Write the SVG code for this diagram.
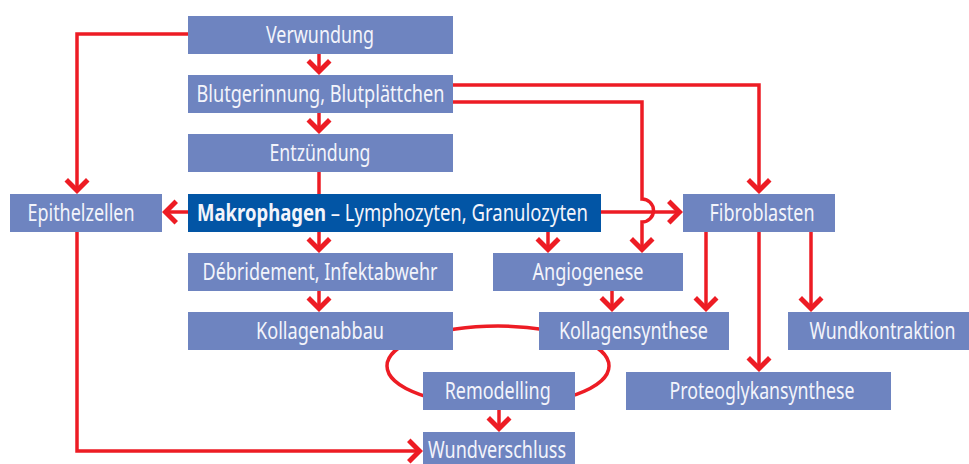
<svg xmlns="http://www.w3.org/2000/svg" width="969" height="464" viewBox="0 0 969 464">
<defs>
<style>
.box{fill:#6e84c0}
.dark{fill:#0255a5}
.lbl{font-family:"Noto Sans","Liberation Sans",sans-serif;font-size:23px;fill:#f3f4fb;text-anchor:middle}
.b{font-weight:bold}
.st{text-anchor:start}
.c{fill:none;stroke:#ed1c24;stroke-width:3.5}
</style>
<marker id="arr" markerUnits="userSpaceOnUse" viewBox="-20 -20 40 40" markerWidth="40" markerHeight="40" refX="-3" refY="0" orient="auto" overflow="visible">
<polygon points="0,0 -12.5,12.5 -16,9 -7,0 -16,-9 -12.5,-12.5" fill="#ed1c24"/>
</marker>
</defs>
<rect width="969" height="464" fill="#fff"/>
<g id="loop">
<ellipse class="c" cx="498" cy="366" rx="111" ry="40"/>
</g>
<g id="connectors" class="c">
<path d="M188,34 H77 V191" marker-end="url(#arr)"/>
<path d="M319,54 V72" marker-end="url(#arr)"/>
<path d="M319,113 V131" marker-end="url(#arr)"/>
<path d="M453,85 H759 V191" marker-end="url(#arr)"/>
<path d="M453,102 H642 V199 A11.5,11.5 0 0 1 642,222 V250" marker-end="url(#arr)"/>
<path d="M319,172 V194"/>
<path d="M188,212 H165" marker-end="url(#arr)"/>
<path d="M601,212 H680" marker-end="url(#arr)"/>
<path d="M319,232 V250" marker-end="url(#arr)"/>
<path d="M548,232 V250" marker-end="url(#arr)"/>
<path d="M319,291 V309" marker-end="url(#arr)"/>
<path d="M612,291 V309" marker-end="url(#arr)"/>
<path d="M706,232 V309" marker-end="url(#arr)"/>
<path d="M759,232 V369" marker-end="url(#arr)"/>
<path d="M811,232 V309" marker-end="url(#arr)"/>
<path d="M499,410 V429" marker-end="url(#arr)"/>
<path d="M77,232 V451 H420" marker-end="url(#arr)"/>
</g>
<g id="verwundung"><rect class="box" x="188" y="16" width="265" height="38"/><text class="lbl" x="320" y="43" textLength="108" lengthAdjust="spacingAndGlyphs">Verwundung</text></g>
<g id="blutgerinnung"><rect class="box" x="188" y="75" width="265" height="38"/><text class="lbl" x="320.5" y="102" textLength="248" lengthAdjust="spacingAndGlyphs">Blutgerinnung, Blutplättchen</text></g>
<g id="entzuendung"><rect class="box" x="188" y="134" width="265" height="38"/><text class="lbl" x="320" y="161" textLength="101" lengthAdjust="spacingAndGlyphs">Entzündung</text></g>
<g id="makrophagen"><rect class="dark" x="188" y="194" width="413" height="38"/><text class="lbl st" x="197" y="221" textLength="391" lengthAdjust="spacingAndGlyphs"><tspan class="b">Makrophagen</tspan> – Lymphozyten, Granulozyten</text></g>
<g id="epithelzellen"><rect class="box" x="10" y="194" width="152" height="38"/><text class="lbl" x="81" y="221" textLength="107" lengthAdjust="spacingAndGlyphs">Epithelzellen</text></g>
<g id="fibroblasten"><rect class="box" x="683" y="194" width="152" height="38"/><text class="lbl" x="762" y="221" textLength="105" lengthAdjust="spacingAndGlyphs">Fibroblasten</text></g>
<g id="debridement"><rect class="box" x="188" y="253" width="265" height="38"/><text class="lbl" x="320" y="280" textLength="235" lengthAdjust="spacingAndGlyphs">Débridement, Infektabwehr</text></g>
<g id="angiogenese"><rect class="box" x="493" y="253" width="190" height="38"/><text class="lbl" x="588" y="280" textLength="111" lengthAdjust="spacingAndGlyphs">Angiogenese</text></g>
<g id="kollagenabbau"><rect class="box" x="188" y="312" width="265" height="38"/><text class="lbl" x="320" y="339" textLength="128" lengthAdjust="spacingAndGlyphs">Kollagenabbau</text></g>
<g id="kollagensynthese"><rect class="box" x="539" y="312" width="190" height="38"/><text class="lbl" x="633.5" y="339" textLength="149" lengthAdjust="spacingAndGlyphs">Kollagensynthese</text></g>
<g id="wundkontraktion"><rect class="box" x="788" y="312" width="181" height="38"/><text class="lbl" x="882.5" y="339" textLength="146" lengthAdjust="spacingAndGlyphs">Wundkontraktion</text></g>
<g id="remodelling"><rect class="box" x="423" y="372" width="152" height="38"/><text class="lbl" x="497.7" y="399" textLength="106" lengthAdjust="spacingAndGlyphs">Remodelling</text></g>
<g id="proteoglykansynthese"><rect class="box" x="626" y="372" width="265" height="38"/><text class="lbl" x="762" y="399" textLength="185" lengthAdjust="spacingAndGlyphs">Proteoglykansynthese</text></g>
<g id="wundverschluss"><rect class="box" x="423" y="432" width="152" height="38"/><text class="lbl" x="497" y="458" textLength="138" lengthAdjust="spacingAndGlyphs">Wundverschluss</text></g>
</svg>
